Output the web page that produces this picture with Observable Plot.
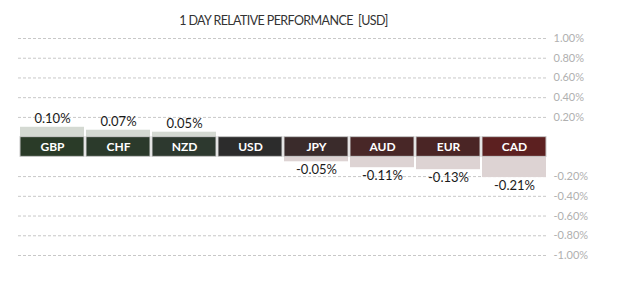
<!DOCTYPE html>
<html>
<head>
<meta charset="utf-8">
<script src="https://cdn.jsdelivr.net/npm/d3@7"></script>
<script src="https://cdn.jsdelivr.net/npm/@observablehq/plot@0.6"></script>
<style>
  html, body { margin: 0; padding: 0; background: #fff; }
  #chart svg { display: block; }
</style>
</head>
<body>
<div id="chart"></div>
<script>
const title = "1 DAY RELATIVE PERFORMANCE  [USD]";
const currencies = ["GBP", "CHF", "NZD", "USD", "JPY", "AUD", "EUR", "CAD"];
const values = [0.10, 0.07, 0.05, 0.00, -0.05, -0.11, -0.13, -0.21];
const tickValues = [1.0, 0.8, 0.6, 0.4, 0.2, -0.2, -0.4, -0.6, -0.8, -1.0];
const bandColors = ["#2a3b28", "#2b3a2b", "#2d392f", "#2c2c2c", "#3a2b2b", "#482727", "#4a2525", "#5c2020"];

const data = currencies.map((c, i) => ({currency: c, value: values[i]}));
const half = 0.1; // half of the label band, in percent units
const shift = v => v >= 0 ? v + half : v - half;
const unshift = v => v >= 0 ? v - half : v + half;
const fmt = v => v.toFixed(2) + "%";
const moved = data.filter(d => d.value !== 0);
const ups = data.filter(d => d.value > 0);
const downs = data.filter(d => d.value < 0);

const chart = Plot.plot({
  width: 625,
  height: 282,
  marginLeft: 18,
  marginRight: 77,
  marginTop: 38,
  marginBottom: 27,
  style: {fontFamily: "Lato, 'Open Sans', sans-serif"},
  x: {domain: currencies, paddingInner: 0.03, paddingOuter: 0, axis: null},
  y: {domain: [-1.1, 1.1], axis: null},
  color: {type: "ordinal", domain: currencies, range: bandColors},
  marks: [
    Plot.ruleY(tickValues, {y: shift, stroke: "#c8c8c8", strokeDasharray: "3,2"}),
    Plot.axisY({
      ticks: tickValues.map(shift),
      tickFormat: d => fmt(unshift(d)),
      anchor: "right",
      tickSize: 0,
      tickPadding: 5,
      fill: "#b0b0b0",
      fontSize: 11,
      label: null
    }),
    Plot.rect(moved, {
      x: "currency",
      y1: d => d.value >= 0 ? half : -half,
      y2: d => shift(d.value),
      fill: d => d.value >= 0 ? "#d4d9d2" : "#ddd3d3"
    }),
    Plot.rect(data, {
      x: "currency",
      y1: -half,
      y2: half,
      fill: "currency",
      stroke: "#c8c8c8",
      strokeWidth: 1
    }),
    Plot.text(data, {
      x: "currency",
      y: 0,
      text: "currency",
      fill: "white",
      fontWeight: "bold",
      fontSize: 12
    }),
    Plot.text(ups, {
      x: "currency",
      y: d => shift(d.value),
      text: d => fmt(d.value),
      dy: -8,
      fill: "#1a1a1a",
      fontSize: 13
    }),
    Plot.text(downs, {
      x: "currency",
      y: d => shift(d.value),
      text: d => fmt(d.value),
      dy: 8,
      fill: "#1a1a1a",
      fontSize: 13
    }),
    Plot.text([title], {
      frameAnchor: "top",
      lineAnchor: "middle",
      dy: -18,
      fill: "#333",
      fontSize: 12.5
    })
  ]
});
chart.querySelectorAll("text").forEach(t => {
  if (t.textContent === title) t.setAttribute("letter-spacing", "-0.6");
});
document.getElementById("chart").appendChild(chart);
</script>
</body>
</html>
